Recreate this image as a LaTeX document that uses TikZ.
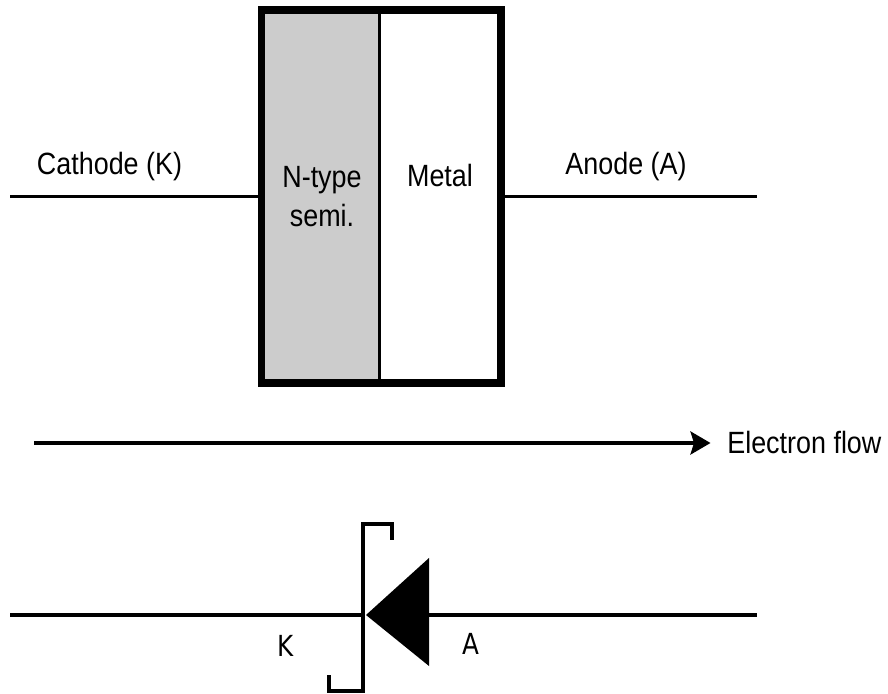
\documentclass[tikz,border=0pt]{standalone}
\usepackage{fontspec}
\setmainfont[FakeStretch=0.875]{Liberation Sans}
\newfontfamily\letterfont[FakeStretch=0.85]{DejaVu Sans}
\usetikzlibrary{arrows.meta}
\usetikzlibrary{positioning}
\usetikzlibrary{calc}
\tikzset{
  lead/.style={line width=2pt},
  lbl/.style={inner sep=0pt, font=\fontsize{17.5}{22.7}\selectfont, anchor=base},
  letter/.style={inner sep=0pt, font=\fontsize{16.5}{20}\selectfont\letterfont, anchor=base},
}

\begin{document}
\begin{tikzpicture}
\useasboundingbox (0,0) rectangle (17.76,13.86);

%semiconductor side
\fill[black!20] (5.23,6.2) rectangle (7.59,13.66);

%outer box
\node[draw, line width=4.1pt, minimum width=4.79cm, minimum height=7.46cm, inner sep=0pt] (box) at (7.625,9.93) {};
\draw[line width=2pt] (7.59,13.66) -- (7.59,6.2);

%box text
\node[lbl, align=center] (semi) at (6.44,9.32) {N-type\\semi.};
\node[lbl] (metal) at (8.8,10.12) {Metal};

%leads
\coordinate (kend) at (0.2,9.93);
\coordinate (aend) at (15.14,9.93);
\draw[lead] (kend) -- (box.west);
\draw[lead] (box.east) -- (aend);
\node[lbl] (cathode) at (2.19,10.36) {Cathode (K)};
\node[lbl] (anode) at (12.52,10.36) {Anode (A)};

%electron flow
\coordinate (flowstart) at (0.68,5);
\node[lbl, anchor=base west] (flow) at (14.54,4.78) {Electron flow};
\draw[lead, -{Stealth[length=0.4cm, width=0.46cm, inset=0.07cm]}, shorten >=0.33cm] (flowstart) -- (flowstart -| flow.west);

%diode bar
\coordinate (bar) at (7.26,1.56);
\draw[line width=2.2pt] (6.58,0.36) -- (6.58,0.04) -- (7.26,0.04) -- (7.26,3.38) -- (7.84,3.38) -- (7.84,3.06);

%diode triangle
\coordinate (tip) at (7.32,1.56);
\coordinate (base) at (8.58,1.56);
\coordinate (lend) at (0.2,1.56);
\coordinate (rend) at (15.14,1.56);
\fill (tip) -- (8.58,2.7) -- (8.58,0.54) -- cycle;
\draw[lead] (lend) -- (bar);
\draw[lead] (base) -- (rend);
\node[letter] (klabel) at (5.71,0.72) {K};
\node[letter] (alabel) at (9.42,0.78) {A};

\end{tikzpicture}
\end{document}
